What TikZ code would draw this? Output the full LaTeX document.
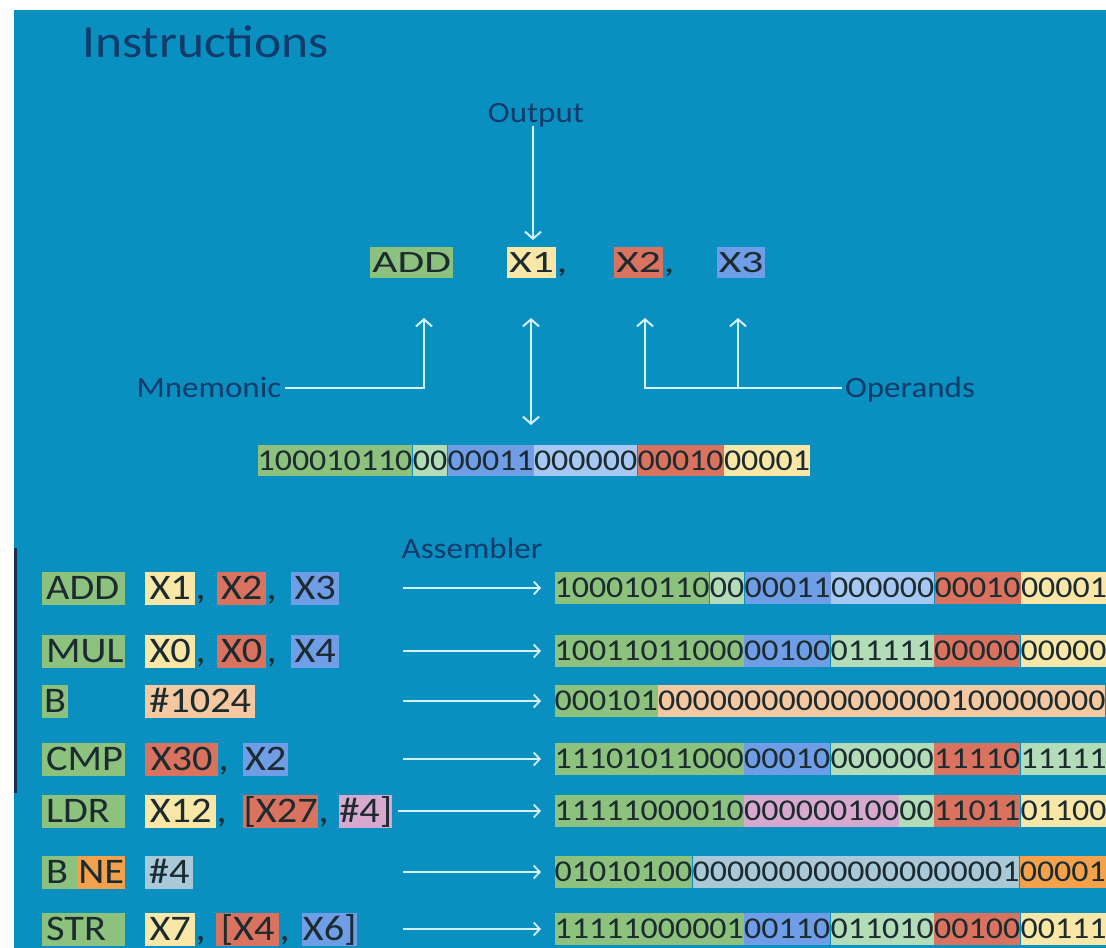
\documentclass[tikz,border=0pt]{standalone}
\usepackage{fontspec}
\setmainfont{Carlito}[FakeStretch=1.12]
\newfontfamily\widefont{Carlito}[FakeStretch=1.4]
\usetikzlibrary{arrows.meta}
\definecolor{bg}{HTML}{0A90C0}
\definecolor{navy}{HTML}{103B6B}
\definecolor{ink}{HTML}{1B2B30}
\definecolor{edge}{HTML}{1B2F55}
\definecolor{arrowc}{HTML}{D4F2FF}
\definecolor{cgreen}{HTML}{8DC17E}
\definecolor{clgreen}{HTML}{B3DCB8}
\definecolor{cyellow}{HTML}{F9E7A8}
\definecolor{cred}{HTML}{D9735F}
\definecolor{cblue}{HTML}{6F9DE6}
\definecolor{clblue}{HTML}{A7C8F2}
\definecolor{cpeach}{HTML}{F4C9A2}
\definecolor{cpink}{HTML}{D8A9CF}
\definecolor{corange}{HTML}{F3A24B}
\definecolor{cgrey}{HTML}{A9C9D9}
\tikzset{
  box/.style={anchor=west, inner sep=0pt, text depth=0pt, text=ink},
  lrow/.style={box, minimum height=33pt, text height=23.2pt, font=\fontsize{36}{40}\selectfont},
  mnem/.style={lrow, fill=cgreen, inner xsep=4pt, text width=75pt, align=left},
  comma/.style={lrow, inner xsep=0pt},
  trow/.style={box, minimum height=31pt, text height=20pt, font=\widefont\fontsize{31}{34}\selectfont},
  seg/.style={box, text height=19.5pt, font=\fontsize{30.3}{33}\selectfont},
  lab/.style={inner sep=3pt, text height=19pt, text depth=0pt, text=navy, font=\fontsize{29.5}{32}\selectfont},
  arr/.style={draw=arrowc, line width=2pt, -{Straight Barb[length=7pt,width=16pt]}},
  arrb/.style={draw=arrowc, line width=2pt, {Straight Barb[length=7pt,width=16pt]}-{Straight Barb[length=7pt,width=16pt]}},
  asm/.style={draw=arrowc, line width=1.8pt, -{Straight Barb[length=6pt,width=13pt]}, shorten >=13pt},
}
\newcommand\binrow[5]{%
  \node[inner sep=0pt, minimum size=0pt, anchor=west] (#1-0) at (#2,#3) {};
  \foreach \n/\c/\t [count=\i, evaluate=\i as \j using int(\i-1)] in {#5} {
    \node[seg, fill=\c, minimum height=#4, minimum width=\n*17.16pt] (#1-\i) at (#1-\j.east) {\t};
  }
}
\begin{document}
\begin{tikzpicture}[x=1pt,y=-1pt]
\useasboundingbox (0,0) rectangle (1106,948);
\fill[white] (0,0) rectangle (1106,948);
\fill[bg] (14,10) rectangle (1106,948);
\fill[edge] (14,548) rectangle (17,793);

% title
\node[lab, anchor=west, text height=29.6pt, font=\fontsize{46}{50}\selectfont] (title) at (79,43) {Instructions};

% top instruction
\node[lab] (out) at (536,113) {Output};
\node[trow, fill=cgreen, minimum width=83pt] (addT) at (370,262.5) {ADD};
\node[trow, fill=cyellow, minimum width=49pt] (x1T) at (507,262.5) {X1};
\node[trow, inner xsep=0pt] (c1T) at (x1T.east) {,};
\node[trow, fill=cred, minimum width=49pt] (x2T) at (614,262.5) {X2};
\node[trow, inner xsep=0pt] (c2T) at (x2T.east) {,};
\node[trow, fill=cblue, minimum width=48pt] (x3T) at (717,262.5) {X3};

\draw[arr, shorten >=7pt] (out.south -| 533,0) -- (533,247);

\node[lab] (mnemo) at (209,388) {Mnemonic};
\node[lab] (oper) at (910,388) {Operands};
\coordinate (mA) at (424,318);
\coordinate (oA) at (645,318);
\coordinate (oJ) at (738,388);
\coordinate (oB) at (738,318);
\draw[arr] (mnemo.east) -| (mA);
\draw[arr] (oper.west) -| (oA);
\draw[arr] (oJ) -- (oB);

\binrow{topbin}{257}{460.5}{31pt}{9/cgreen/100010110, 2/clgreen/00, 5/cblue/00011, 6/clblue/000000, 5/cred/00010, 5/cyellow/00001}
\coordinate (dA) at (531,318);
\coordinate (dB) at (531,425);
\draw[arrb] (dA) -- (dB);

% assembler table
\node[lab] (asmlab) at (472,549) {Assembler};

% row 1
\node[mnem] (m1) at (42,588) {ADD};
\node[lrow, fill=cyellow, minimum width=50pt] (a1) at (145,588) {X1};
\node[comma] (a1c) at (a1.east) {,};
\node[lrow, fill=cred, minimum width=49pt] (b1) at (217,588) {X2};
\node[comma] (b1c) at (b1.east) {,};
\node[lrow, fill=cblue, minimum width=48pt] (d1) at (291,588) {X3};
% row 2
\node[mnem] (m2) at (42,651) {MUL};
\node[lrow, fill=cyellow, minimum width=50pt] (a2) at (145,651) {X0};
\node[comma] (a2c) at (a2.east) {,};
\node[lrow, fill=cred, minimum width=49pt] (b2) at (217,651) {X0};
\node[comma] (b2c) at (b2.east) {,};
\node[lrow, fill=cblue, minimum width=48pt] (d2) at (291,651) {X4};
% row 3
\node[lrow, fill=cgreen, minimum width=26pt] (m3) at (42,701) {B};
\node[lrow, fill=cpeach, minimum width=110pt] (a3) at (145,701) {\#1024};
% row 4
\node[mnem] (m4) at (42,759) {CMP};
\node[lrow, fill=cred, minimum width=73pt] (a4) at (145,759) {X30};
\node[comma] (a4c) at (a4.east) {,};
\node[lrow, fill=cblue, minimum width=45pt] (b4) at (243,759) {X2};
% row 5
\node[mnem] (m5) at (42,811) {LDR};
\node[lrow, fill=cyellow, minimum width=71pt] (a5) at (145,811) {X12};
\node[comma] (a5c) at (a5.east) {,};
\node[lrow, fill=cred, minimum width=75pt] (b5) at (243,811) {[X27};
\node[comma] (b5c) at (b5.east) {,};
\node[lrow, fill=cpink, minimum width=53pt] (d5) at (339,811) {\#4]};
% row 6
\node[lrow, fill=cgreen, minimum width=35pt, inner xsep=4pt, text width=27pt, align=left] (m6) at (42,872) {B};
\node[lrow, fill=corange, minimum width=48pt] (m6b) at (77,872) {NE};
\node[lrow, fill=cgrey, minimum width=48pt] (a6) at (145,872) {\#4};
% row 7
\node[mnem] (m7) at (42,929) {STR};
\node[lrow, fill=cyellow, minimum width=50pt] (a7) at (145,929) {X7};
\node[comma] (a7c) at (a7.east) {,};
\node[lrow, fill=cred, minimum width=63pt] (b7) at (216,929) {[X4};
\node[comma] (b7c) at (b7.east) {,};
\node[lrow, fill=cblue, minimum width=55pt] (d7) at (302,929) {X6]};

% binaries
\binrow{r1}{554}{588}{32pt}{9/cgreen/100010110, 2/clgreen/00, 5/cblue/00011, 6/clblue/000000, 5/cred/00010, 5/cyellow/00001}
\binrow{r2}{554}{651}{32pt}{11/cgreen/10011011000, 5/cblue/00100, 6/clgreen/011111, 5/cred/00000, 5/cyellow/00000}
\binrow{r3}{554}{701}{32pt}{6/cgreen/000101, 26/cpeach/00000000000000000100000000}
\binrow{r4}{554}{759}{32pt}{11/cgreen/11101011000, 5/cblue/00010, 6/clgreen/000000, 5/cred/11110, 5/clgreen/11111}
\binrow{r5}{554}{811}{32pt}{11/cgreen/11111000010, 9/cpink/000000100, 2/clgreen/00, 5/cred/11011, 5/cyellow/01100}
\binrow{r6}{554}{872}{32pt}{8/cgreen/01010100, 19/cgrey/0000000000000000001, 5/corange/00001}
\binrow{r7}{554}{929}{32pt}{11/cgreen/11111000001, 5/cblue/00110, 6/clgreen/011010, 5/cred/00100, 5/cyellow/00111}

% assembler arrows
\coordinate (s1) at (403,588);
\coordinate (s2) at (403,651);
\coordinate (s3) at (403,701);
\coordinate (s4) at (403,759);
\coordinate (s5) at (398,811);
\coordinate (s6) at (403,872);
\coordinate (s7) at (403,929);
\draw[asm] (s1) -- (r1-0);
\draw[asm] (s2) -- (r2-0);
\draw[asm] (s3) -- (r3-0);
\draw[asm] (s4) -- (r4-0);
\draw[asm] (s5) -- (r5-0);
\draw[asm] (s6) -- (r6-0);
\draw[asm] (s7) -- (r7-0);
\end{tikzpicture}
\end{document}
